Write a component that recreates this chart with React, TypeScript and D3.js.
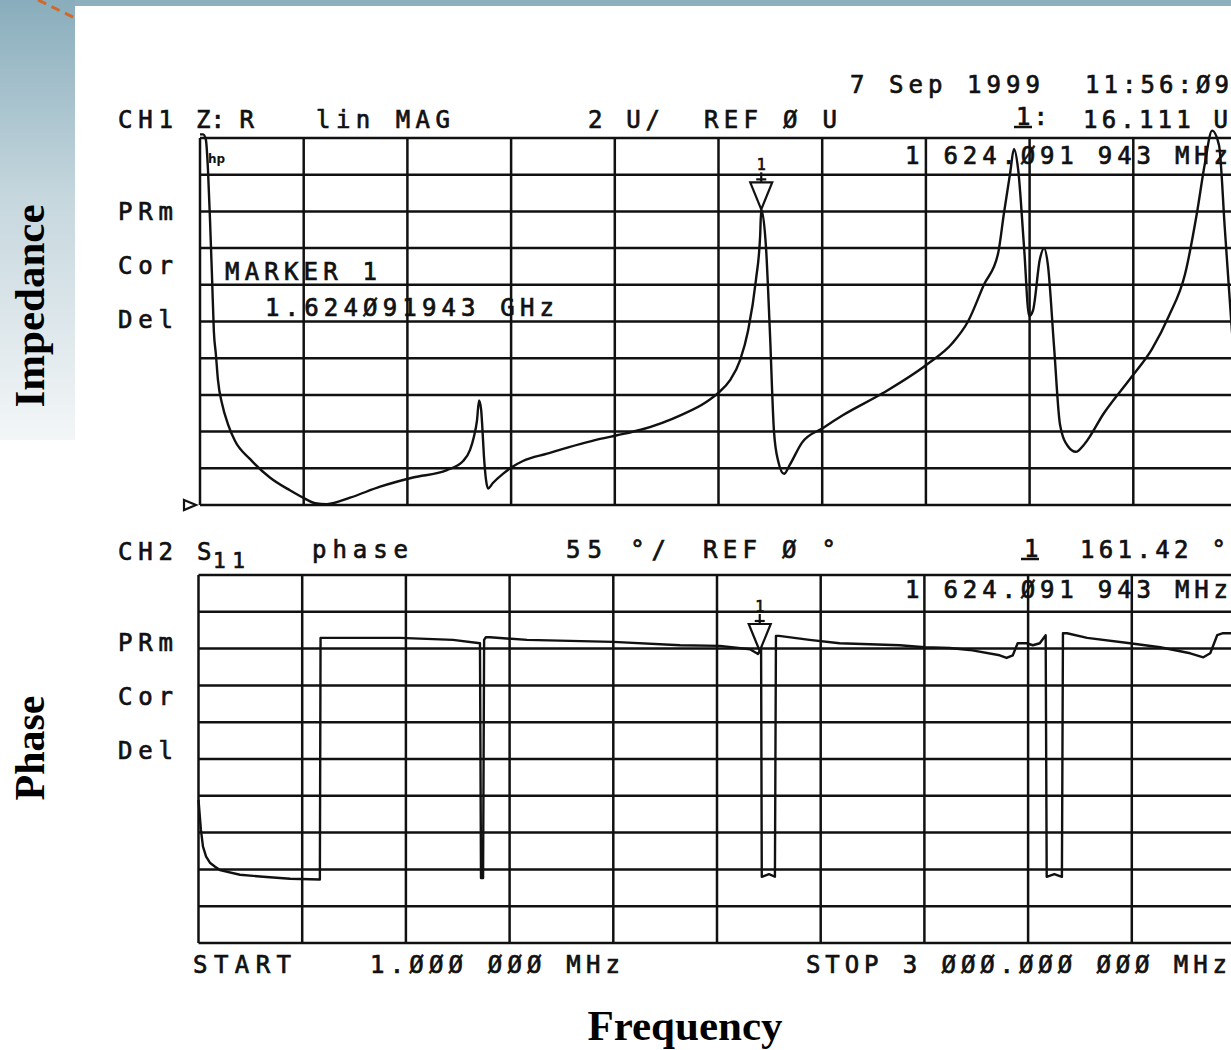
import React from "react";
import * as d3 from "d3";

// sweep, MHz
const startMHz = 1;
const stopMHz = 3000;
const markerMHz = 1624.091943;
const markerR = 16.111;
const markerPhase = 161.42;

// CH1  Z: R  (lin MAG, 2 U/div, ref 0 U)
const zFreq = [
  1, 10, 18, 24, 30, 36, 41, 47, 53, 65,
  82, 102, 146, 203, 261, 299, 334, 368, 435, 522,
  617, 715, 762, 782, 793, 802, 808, 814, 817, 822,
  828, 834, 848, 877, 906, 935, 1005, 1158, 1207, 1276,
  1392, 1464, 1499, 1534, 1563, 1586, 1609, 1621, 1624, 1638,
  1649, 1661, 1673, 1690, 1707, 1742, 1803, 1861, 1976, 2106,
  2176, 2222, 2268, 2309, 2326, 2344, 2355, 2367, 2384, 2399,
  2410, 2430, 2442, 2453, 2471, 2488, 2511, 2534, 2558, 2615,
  2696, 2754, 2803, 2850, 2884, 2907, 2928, 2948, 2965, 2983,
  3000,
];
const zReal = [
  20.2, 20.2, 19.9, 18.3, 15.5, 12.3, 9.5, 8.2, 6.8, 5.5,
  4.4, 3.5, 2.5, 1.5, 0.8, 0.4, 0.1, 0.05, 0.4, 1.0,
  1.5, 1.9, 2.4, 3.0, 3.7, 4.6, 5.7, 5.2, 4.4, 2.7,
  1.4, 0.9, 1.2, 1.7, 2.1, 2.4, 2.8, 3.6, 3.8, 4.1,
  4.9, 5.6, 6.1, 6.8, 7.9, 9.5, 12.3, 14.7, 16.11, 14.0,
  9.5, 4.0, 2.4, 1.7, 2.2, 3.4, 4.2, 4.9, 6.1, 7.7,
  8.8, 10.0, 12.0, 13.7, 15.9, 18.1, 19.4, 18.3, 14.1, 10.3,
  10.6, 13.4, 14.0, 13.1, 8.6, 4.4, 3.2, 2.9, 3.3, 5.0,
  7.0, 8.5, 10.3, 12.6, 15.9, 18.6, 20.4, 19.6, 15.0, 10.1,
  5.7,
];

// CH2  S11 phase (55 deg/div, ref 0 deg at centre)
const phFreq = [
  1, 8, 14, 23, 34, 49, 63, 121, 188, 266,
  352, 354, 410, 584, 737, 815, 818, 824, 827, 832,
  844, 951, 1200, 1394, 1509, 1596, 1619, 1624, 1628, 1630,
  1651, 1668, 1671, 1680, 1768, 1855, 2029, 2101, 2173, 2231,
  2318, 2338, 2356, 2370, 2396, 2414, 2434, 2451, 2454, 2476,
  2498, 2501, 2513, 2571, 2695, 2782, 2869, 2907, 2927, 2947,
  2964, 3000,
];
const phDeg = [
  -61, -106, -131, -146, -155, -161, -166, -173, -176, -179,
  -180, 181, 181, 181, 178, 173, -178, -178, 178, 182,
  182, 178, 175, 170, 169, 164, 157, 161.42, 163, -176,
  -172, -176, 184, 184, 178, 173, 170, 167, 166, 163,
  155, 151, 155, 173, 173, 170, 173, 185, -176, -172,
  -176, 188, 188, 181, 173, 167, 158, 152, 158, 185,
  188, 188,
];

const softkeys = ["PRm", "Cor", "Del"];

const mono = "'DejaVu Sans Mono', monospace";
const serif = "'Liberation Serif', 'Times New Roman', serif";
const ink = "#111";

function T({ x, y, len, children, size = 24, anchor = "start" }: any) {
  return (
    <text
      x={x}
      y={y}
      fontFamily={mono}
      fontSize={size}
      fill={ink}
      stroke={ink}
      strokeWidth={0.7}
      textAnchor={anchor}
      textLength={len}
      lengthAdjust={len ? "spacing" : undefined}
    >
      {children}
    </text>
  );
}

export default function App() {
  const xTop = d3.scaleLinear().domain([startMHz, stopMHz]).range([200, 1237]);
  const yTop = d3.scaleLinear().domain([0, 20]).range([505, 138]);
  const xBot = d3.scaleLinear().domain([startMHz, stopMHz]).range([198.5, 1235.5]);
  const yBot = d3.scaleLinear().domain([-275, 275]).range([943, 575]);

  const fTicks = d3.range(11).map((i) => startMHz + (i * (stopMHz - startMHz)) / 10);
  const zTicks = d3.range(0, 21, 2);
  const pTicks = d3.range(-275, 276, 55);

  const zLine = d3
    .line<number>()
    .x((d, i) => xTop(zFreq[i]))
    .y((d) => yTop(d))
    .curve(d3.curveMonotoneX);
  const pLine = d3
    .line<number>()
    .x((d, i) => xBot(phFreq[i]))
    .y((d) => yBot(d));

  const mxT = xTop(markerMHz);
  const myT = yTop(markerR);
  const mxB = xBot(markerMHz);
  const myB = yBot(markerPhase);

  return (
    <svg
      width={1231}
      height={1050}
      style={{ position: "absolute", left: 0, top: 0, background: "#fff" }}
    >
      <defs>
        <linearGradient id="strip" x1="0" y1="0" x2="0" y2="1">
          <stop offset="0" stopColor="#89adbc" />
          <stop offset="0.45" stopColor="#c6d7de" />
          <stop offset="1" stopColor="#f3f6f7" />
        </linearGradient>
      </defs>
      <rect x={0} y={0} width={1231} height={6} fill="#8eafbd" />
      <rect x={0} y={0} width={75} height={440} fill="url(#strip)" />
      <line x1={38} y1={0} x2={77} y2={19} stroke="#d0692a" strokeWidth={3} strokeDasharray="9,6" />

      {/* slide labels */}
      <text transform="translate(44,306) rotate(-90)" textAnchor="middle" fontFamily={serif} fontWeight="bold" fontSize={43} fill="#000">
        Impedance
      </text>
      <text transform="translate(44,748) rotate(-90)" textAnchor="middle" fontFamily={serif} fontWeight="bold" fontSize={42} fill="#000">
        Phase
      </text>
      <text x={685} y={1040} textAnchor="middle" fontFamily={serif} fontWeight="bold" fontSize={43} fill="#000">
        Frequency
      </text>

      {/* CH1 grid */}
      <g stroke={ink} strokeWidth={2.5}>
        {fTicks.map((f, i) => (
          <line key={"tv" + i} x1={xTop(f)} x2={xTop(f)} y1={yTop(20)} y2={yTop(0)} />
        ))}
        {zTicks.map((v) => (
          <line key={"th" + v} x1={xTop(startMHz)} x2={xTop(stopMHz)} y1={yTop(v)} y2={yTop(v)} />
        ))}
      </g>
      {/* CH2 grid */}
      <g stroke={ink} strokeWidth={2.5}>
        {fTicks.map((f, i) => (
          <line key={"bv" + i} x1={xBot(f)} x2={xBot(f)} y1={yBot(275)} y2={yBot(-275)} />
        ))}
        {pTicks.map((v) => (
          <line key={"bh" + v} x1={xBot(startMHz)} x2={xBot(stopMHz)} y1={yBot(v)} y2={yBot(v)} />
        ))}
      </g>

      {/* traces */}
      <path d={zLine(zReal) || ""} fill="none" stroke={ink} strokeWidth={2.4} strokeLinejoin="round" />
      <path d={pLine(phDeg) || ""} fill="none" stroke={ink} strokeWidth={2.4} strokeLinejoin="round" />

      {/* markers */}
      <g fill="none" stroke={ink} strokeWidth={2.2}>
        <path d={`M${mxT - 11},${myT - 27}L${mxT + 11},${myT - 27}L${mxT},${myT}Z`} />
        <line x1={mxT} x2={mxT} y1={myT - 37} y2={myT - 27} />
        <line x1={mxT - 5} x2={mxT + 5} y1={myT - 30} y2={myT - 30} />
        <path d={`M${mxB - 11},${myB - 27}L${mxB + 11},${myB - 27}L${mxB},${myB}Z`} />
        <line x1={mxB} x2={mxB} y1={myB - 37} y2={myB - 27} />
        <line x1={mxB - 5} x2={mxB + 5} y1={myB - 30} y2={myB - 30} />
        <path d="M184,500L196,505L184,510Z" />
        <line x1={1014} x2={1032} y1={127} y2={127} strokeWidth={2.5} />
        <line x1={1021} x2={1039} y1={559} y2={559} strokeWidth={2.5} />
      </g>
      <T x={mxT} y={myT - 39} size={15} anchor="middle">1</T>
      <T x={mxB} y={myB - 39} size={15} anchor="middle">1</T>
      <text x={208} y={163} fontFamily="'DejaVu Sans', sans-serif" fontWeight="bold" fontSize={12} fill={ink}>
        hp
      </text>

      {/* CH1 annotations */}
      <T x={850} y={93} len={190}>7 Sep 1999</T>
      <T x={1085} y={93} len={144}>11:56:Ø9</T>
      <T x={118} y={128} len={55}>CH1</T>
      <T x={196} y={128} len={58}>Z: R</T>
      <T x={316} y={128} len={134}>lin MAG</T>
      <T x={588} y={128} len={72}>2 U/</T>
      <T x={704} y={128} len={133}>REF Ø U</T>
      <T x={1016} y={125} len={32}>1:</T>
      <T x={1083} y={128} len={145}>16.111 U</T>
      <T x={905} y={164} len={323}>1 624.Ø91 943 MHz</T>
      <T x={225} y={280} len={152}>MARKER 1</T>
      <T x={265} y={316} len={289}>1.624Ø91943 GHz</T>
      {softkeys.map((s, i) => (
        <T key={"k1" + s} x={118} y={220 + i * 54} len={55}>{s}</T>
      ))}

      {/* CH2 annotations */}
      <T x={118} y={560} len={55}>CH2</T>
      <T x={197} y={560}>S</T>
      <T x={213} y={568} len={32} size={21}>11</T>
      <T x={312} y={558} len={96}>phase</T>
      <T x={566} y={558} len={100}>55 °/</T>
      <T x={703} y={558} len={133}>REF Ø °</T>
      <T x={1024} y={557}>1</T>
      <T x={1080} y={558} len={146}>161.42 °</T>
      <T x={905} y={598} len={323}>1 624.Ø91 943 MHz</T>
      {softkeys.map((s, i) => (
        <T key={"k2" + s} x={118} y={651 + i * 54} len={55}>{s}</T>
      ))}

      {/* sweep */}
      <T x={193} y={973} len={98}>START</T>
      <T x={370} y={973} len={250}>1.ØØØ ØØØ MHz</T>
      <T x={806} y={973} len={421}>STOP 3 ØØØ.ØØØ ØØØ MHz</T>
    </svg>
  );
}
